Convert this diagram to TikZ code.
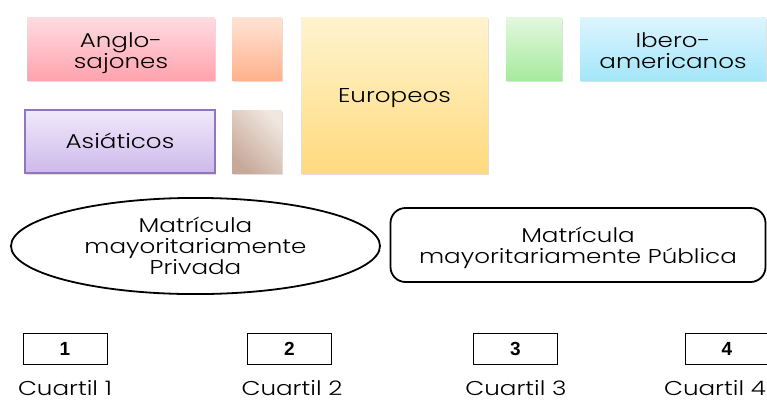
\documentclass[tikz,border=0pt]{standalone}
\usepackage{fontspec}
\IfFontExistsTF{Poppins Light}{\setmainfont[FakeStretch=1.23]{Poppins Light}}{\setmainfont[FakeStretch=1.23]{Poppins}}
\newfontfamily\numfont{Liberation Sans}
\usetikzlibrary{shapes.geometric,shadows}
\definecolor{pinkT}{HTML}{FFDCE2}\definecolor{pinkB}{HTML}{FFA3AE}
\definecolor{peachT}{HTML}{FFE3D6}\definecolor{peachB}{HTML}{FFB28C}
\definecolor{yelT}{HTML}{FFF4CF}\definecolor{yelB}{HTML}{FFDA7E}
\definecolor{grnT}{HTML}{E3F8DF}\definecolor{grnB}{HTML}{A6EA9E}
\definecolor{cyaT}{HTML}{DDF5FF}\definecolor{cyaB}{HTML}{A4E6F8}
\definecolor{lavT}{HTML}{F0E9FB}\definecolor{lavB}{HTML}{CDB9EA}
\definecolor{lavD}{HTML}{9275BC}
\definecolor{brnT}{HTML}{C7A999}\definecolor{brnB}{HTML}{EFE7E0}
\newcommand{\topr}[1]{\rule{0pt}{#1}}
\newcommand{\botr}{\rule[-6pt]{0pt}{0pt}}
\tikzset{
  tile/.style={rectangle, inner sep=0pt, align=center, font=\fontsize{20}{21}\selectfont,
    drop shadow={opacity=0.25, shadow xshift=1pt, shadow yshift=-1.5pt}},
  numbox/.style={rectangle, draw=black, line width=1pt, minimum width=84pt, minimum height=31pt,
    inner sep=0pt, font=\numfont\fontsize{19}{20}\selectfont\bfseries},
  qlabel/.style={font=\fontsize{20}{21}\selectfont, inner sep=0pt, anchor=base},
  mat/.style={line width=1.8pt, draw=black, align=center, inner sep=0pt,
    font=\fontsize{20}{21}\selectfont}
}
\begin{document}
\begin{tikzpicture}[x=1pt,y=-1pt]
\useasboundingbox (0,0) rectangle (767,402);
\fill[white] (0,0) rectangle (767,402);
% tiles
\node[tile, top color=pinkT, bottom color=pinkB, minimum width=188pt, minimum height=63pt] (anglo) at (121,48.5) {\topr{24pt}Anglo-\\sajones\botr};
\node[tile, top color=peachT, bottom color=peachB, minimum width=50pt, minimum height=63pt] (peach) at (257,48.5) {};
\node[tile, top color=yelT, bottom color=yelB, minimum width=187pt, minimum height=156pt] (euro) at (394.5,95) {\topr{20pt}Europeos\botr};
\node[tile, top color=grnT, bottom color=grnB, minimum width=56pt, minimum height=63pt] (green) at (534,48.5) {};
\node[tile, top color=cyaT, bottom color=cyaB, minimum width=186pt, minimum height=63pt] (ibero) at (673,48.5) {\topr{24pt}Ibero-\\americanos\botr};
\node[tile, top color=lavT, bottom color=lavB, draw=lavD, line width=1.2pt, minimum width=190pt, minimum height=63pt] (asia) at (120,141.5) {\topr{20pt}Asiáticos\botr};
\node[tile, shading=axis, left color=brnT, right color=brnB, shading angle=135, minimum width=50pt, minimum height=63pt] (brown) at (257,141.5) {};
% matricula
\node[mat, ellipse, minimum width=369pt, minimum height=72pt] (priv) at (195.5,246) {\topr{20pt}Matrícula\\mayoritariamente\\Privada\botr};
\node[mat, rectangle, rounded corners=15pt, minimum width=375pt, minimum height=74pt] (pub) at (578,245) {\topr{21pt}Matrícula\\mayoritariamente Pública\botr};
% quartiles
\node[numbox] (n1) at (65,348.5) {1};
\node[numbox] (n2) at (289.5,348.5) {2};
\node[numbox] (n3) at (515.5,348.5) {3};
\node[numbox] (n4) at (727,348.5) {4};
\node[qlabel] (c1) at (65,395) {Cuartil 1};
\node[qlabel] (c2) at (292,395) {Cuartil 2};
\node[qlabel] (c3) at (516,395) {Cuartil 3};
\node[qlabel] (c4) at (715,395) {Cuartil 4};
\end{tikzpicture}
\end{document}
